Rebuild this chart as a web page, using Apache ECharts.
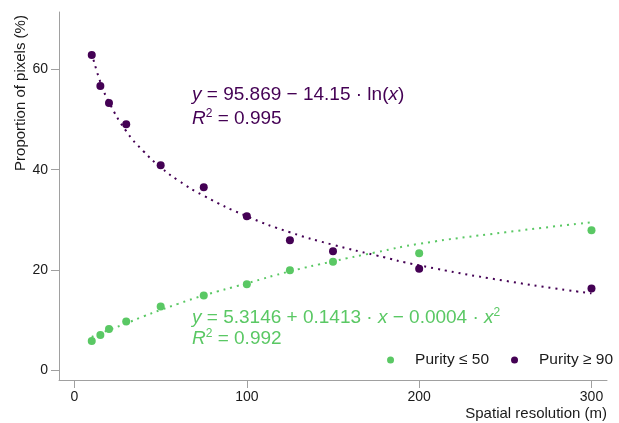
<!DOCTYPE html>
<html>
<head>
<meta charset="utf-8">
<script src="https://cdn.jsdelivr.net/npm/echarts@6/dist/echarts.min.js"></script>
<style>
  html, body { margin: 0; padding: 0; background: #fff; }
  #chart { width: 619px; height: 423px; }
</style>
</head>
<body>
<div id="chart"></div>
<script>
// measured points
var resolution = [10, 15, 20, 30, 50, 75, 100, 125, 150, 200, 300];
var purityHigh = [62.9, 56.7, 53.3, 49.1, 40.9, 36.5, 30.7, 25.9, 23.7, 20.2, 16.3];
var purityLow = [5.8, 7.0, 8.2, 9.7, 12.7, 14.9, 17.1, 19.9, 21.6, 23.3, 27.9];

// fitted curves
var fitX = [10, 15, 20, 30, 40, 50, 60, 75, 100, 125, 150, 175, 200, 250, 300];
var fitHigh = [63.3, 57.5, 53.5, 47.7, 43.7, 40.5, 37.9, 34.8, 30.7, 27.5, 25.0, 22.9, 20.9, 17.8, 15.3];
var fitLow = [6.6, 7.3, 8.0, 9.3, 10.7, 12.0, 13.2, 14.9, 17.3, 19.7, 21.7, 23.5, 25.2, 27.5, 29.5];

var xTicks = [0, 100, 200, 300];
var yTicks = [0, 20, 40, 60];

var nameLow = 'Purity \u2264 50';
var nameHigh = 'Purity \u2265 90';

var green = '#5ac864';
var purple = '#440154';
var font = '"Liberation Sans", Arial, sans-serif';

function pairs(xs, ys) {
    return xs.map(function (x, i) { return [x, ys[i]]; });
}

var myChart = echarts.init(document.getElementById('chart'));

var axisCommon = {
    type: 'value',
    splitLine: { show: false },
    axisLine: { show: true, onZero: false, lineStyle: { color: '#a0a0a0', width: 1 } },
    axisTick: { show: true, length: 8, lineStyle: { color: '#a0a0a0' } },
    axisLabel: { color: '#1a1a1a', fontSize: 14, fontFamily: font }
};

myChart.setOption({
    animation: false,
    backgroundColor: '#fff',
    grid: { left: 59, right: 12, top: 12, bottom: 43 },
    xAxis: Object.assign({}, axisCommon, {
        min: -9, max: 309,
        axisTick: Object.assign({}, axisCommon.axisTick, { customValues: xTicks }),
        axisLabel: Object.assign({}, axisCommon.axisLabel, { customValues: xTicks, margin: 10 })
    }),
    yAxis: Object.assign({}, axisCommon, {
        min: -2, max: 71.5,
        axisTick: Object.assign({}, axisCommon.axisTick, { customValues: yTicks }),
        axisLabel: Object.assign({}, axisCommon.axisLabel, { customValues: yTicks, margin: 11 })
    }),
    legend: {
        right: 1, top: 347,
        itemWidth: 7, itemHeight: 7, itemGap: 22,
        icon: 'circle',
        textStyle: { fontSize: 15.5, color: '#1a1a1a', fontFamily: font, padding: [0, 0, 0, 16] },
        data: [nameLow, nameHigh]
    },
    graphic: [
        {
            type: 'text', x: 21, y: 93, rotation: Math.PI / 2,
            style: { text: 'Proportion of pixels (%)', font: '15px ' + font, fill: '#1a1a1a',
                     align: 'center', verticalAlign: 'middle' }
        },
        {
            type: 'text', x: 607, y: 414,
            style: { text: 'Spatial resolution (m)', font: '15px ' + font, fill: '#1a1a1a',
                     align: 'right', verticalAlign: 'middle' }
        },
        {
            type: 'text', x: 192, y: 95,
            style: {
                text: '{i|y} = 95.869 \u2212 14.15 \u00b7 ln({i|x})',
                font: '19px ' + font, fill: purple, verticalAlign: 'middle',
                rich: { i: { fontStyle: 'italic', fontSize: 19, fontFamily: font, fill: purple } }
            }
        },
        {
            type: 'text', x: 192, y: 119,
            style: {
                text: '{i|R}{s|2} = 0.995',
                font: '19px ' + font, fill: purple, verticalAlign: 'middle',
                rich: {
                    i: { fontStyle: 'italic', fontSize: 19, fontFamily: font, fill: purple, lineHeight: 22 },
                    s: { fontSize: 12, fontFamily: font, fill: purple, verticalAlign: 'top', lineHeight: 12 }
                }
            }
        },
        {
            type: 'text', x: 192, y: 318,
            style: {
                text: '{i|y} = 5.3146 + 0.1413 \u00b7 {i|x} \u2212 0.0004 \u00b7 {i|x}{s|2}',
                font: '19px ' + font, fill: green, verticalAlign: 'middle',
                rich: {
                    i: { fontStyle: 'italic', fontSize: 19, fontFamily: font, fill: green, lineHeight: 22 },
                    s: { fontSize: 12, fontFamily: font, fill: green, verticalAlign: 'top', lineHeight: 12 }
                }
            }
        },
        {
            type: 'text', x: 192, y: 339,
            style: {
                text: '{i|R}{s|2} = 0.992',
                font: '19px ' + font, fill: green, verticalAlign: 'middle',
                rich: {
                    i: { fontStyle: 'italic', fontSize: 19, fontFamily: font, fill: green, lineHeight: 22 },
                    s: { fontSize: 12, fontFamily: font, fill: green, verticalAlign: 'top', lineHeight: 12 }
                }
            }
        }
    ],
    series: [
        {
            name: 'fitLow', type: 'line', data: pairs(fitX, fitLow), smooth: true,
            showSymbol: false, silent: true, z: 1,
            lineStyle: { color: green, width: 2, type: [2, 5] }
        },
        {
            name: 'fitHigh', type: 'line', data: pairs(fitX, fitHigh), smooth: true,
            showSymbol: false, silent: true, z: 1,
            lineStyle: { color: purple, width: 2, type: [2, 5] }
        },
        {
            name: nameLow, type: 'scatter', data: pairs(resolution, purityLow),
            symbolSize: 8, z: 3, itemStyle: { color: green, opacity: 1 }
        },
        {
            name: nameHigh, type: 'scatter', data: pairs(resolution, purityHigh),
            symbolSize: 8, z: 3, itemStyle: { color: purple, opacity: 1 }
        }
    ]
});
</script>
</body>
</html>
